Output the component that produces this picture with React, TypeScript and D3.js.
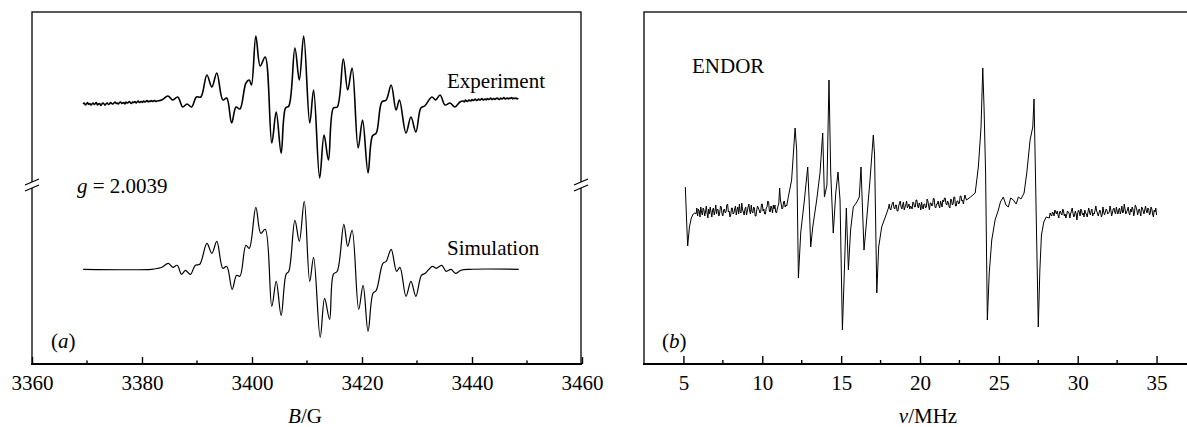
import React, { useEffect, useRef } from 'react';
import * as d3 from 'd3';

// ---------- panel (a): EPR, field B in gauss, signal in arbitrary units ----------
const fieldTicks = [3360, 3380, 3400, 3420, 3440, 3460];
const fieldMinor = [3370, 3390, 3410, 3430, 3450];

// experiment: noisy flat wings (uniform sweep) + hand-read line shape
const SWEEP_A = 0.2;
const expLowStart = 3369.3;
const expLow = [
  0, 1, -1, 0, 1.5, -0.5, 0.5, -1, 0, 1,
  -0.5, 0.5, 1.5, -1, 0, 0.5, -1.5, 0, 1, 0,
  -1, 0.5, 1, -0.5, 0, 1.5, 0.5, 0, 1, 2,
  0.5, 1, 0, 1.5, 2, 0.5, 1, 1.5, 0, 2,
  1, 1.5, 2.5, 1, 0.5, 2, 1.5, 2.5, 1, 2,
  3, 1.5, 2, 2.5, 1.5, 3, 2, 2.5, 3.5, 2,
  3, 2.5, 3.5, 2.5, 3, 3.5, 2.5, 3];
const expHighStart = 3438.4;
const expHigh = [
  3, 2, 4, 3, 2.5, 4, 3.5, 3, 4.5, 3.5,
  4, 5, 3.5, 4, 5, 4, 4.5, 5.5, 4, 4.5,
  5, 4, 5.5, 4.5, 5, 6, 4.5, 5, 5.5, 4.5,
  5.5, 6, 5, 4.5, 6, 5, 5.5, 6.5, 5, 5.5,
  6, 5, 6, 5.5, 6.5, 5, 6, 5.5, 6, 5,
  6];
const expLines: [number, number][] = [
  [3383.6, 4], [3384.7, 8], [3385.6, 4], [3386.5, 7], [3387.4, -3], [3388.2, 0], [3389.0, -3],
  [3389.9, 7], [3390.7, 7], [3391.8, 29], [3392.7, 17], [3393.6, 31], [3394.7, 4], [3395.4, 6],
  [3396.3, -19], [3397.1, -3], [3397.8, -5], [3398.9, 21], [3399.5, 24], [3399.9, 19], [3400.7, 68],
  [3401.5, 38], [3402.4, 47], [3403.6, -39], [3404.4, -8], [3405.3, -49], [3406.1, -4], [3406.7, -2],
  [3407.8, 56], [3408.6, 24], [3409.4, 68], [3410.5, -19], [3411.2, 14], [3412.3, -74], [3413.1, -31],
  [3413.9, -56], [3414.8, -4], [3415.5, -3], [3416.6, 45], [3417.4, 14], [3418.2, 36], [3419.3, -44],
  [3420.1, -16], [3421.1, -69], [3421.9, -32], [3422.6, -29], [3423.6, 2], [3424.4, 4], [3425.3, 19],
  [3426.2, -6], [3426.8, 4], [3428.0, -29], [3428.9, -13], [3429.8, -28], [3430.7, -4], [3431.4, -2],
  [3432.7, 7], [3433.4, 4], [3434.2, 9], [3435.1, -1], [3436.0, 1], [3436.9, -3], [3437.8, 2],
];

const simulation: [number, number][] = [
  [3369.3, 0], [3381.8, 0], [3382.9, 1], [3383.6, 2], [3384.8, 6], [3385.6, 2], [3386.4, 4],
  [3387.2, -5], [3387.9, -1], [3388.8, -5], [3389.7, 4], [3390.5, 5], [3391.8, 26], [3392.7, 16],
  [3393.6, 28], [3394.7, 1], [3395.4, 3], [3396.4, -20], [3397.2, -6], [3397.8, -7], [3398.9, 24],
  [3399.5, 21], [3400.7, 62], [3401.6, 36], [3402.4, 40], [3403.6, -37], [3404.4, -12], [3405.3, -46],
  [3406.2, -5], [3406.7, -2], [3407.8, 49], [3408.6, 28], [3409.5, 68], [3410.5, -12], [3411.2, 12],
  [3412.4, -68], [3413.2, -29], [3414.1, -50], [3414.8, -5], [3415.5, -2], [3416.7, 45], [3417.4, 23],
  [3418.2, 39], [3419.4, -40], [3420.2, -16], [3421.1, -62], [3422.0, -24], [3422.6, -21], [3423.8, 6],
  [3424.4, 8], [3425.3, 20], [3426.3, -2], [3426.9, 2], [3428.0, -27], [3428.9, -12], [3429.8, -27],
  [3430.8, -6], [3431.5, -4], [3432.8, 3], [3433.5, 1], [3434.5, 4], [3435.3, -2], [3436.2, 0],
  [3437.0, -4], [3438.0, -1], [3439.6, 0], [3448.5, 0],
];

// ---------- panel (b): ENDOR, frequency in MHz ----------
const freqTicks = [5, 10, 15, 20, 25, 30, 35];
const freqMinor = [7.5, 12.5, 17.5, 22.5, 27.5, 32.5];

const SWEEP_B = 0.05;
const endorLowStart = 5.8;
const endorLow = [
  -4, 2, -6, 1, -1, -7, 3, -2, -5, 2,
  0, -6, -2, 4, -3, -8, 1, -4, 3, -2,
  -7, 0, 2, -5, -1, 5, -4, 1, 0, -6,
  -3, 4, 3, -4, -6, 0, 1, -3, -2, 5,
  6, -2, -1, -7, -5, 2, 2, -4, -3, 1,
  4, -5, 0, 3, -4, 6, -2, -3, 7, 0,
  -2, -5, 1, 3, -5, -1, 3, 6, -1, -4,
  5, -2, -3, 3, 2, -6, -6, 0, 4, 2,
  0, -3, -2, 6, 6, -1, 1, -4, -4, 2,
  3, 9, 8, -1, -2, 4, 2, -3, 5, 1,
  5, -2, -3, 1, 4, 7, 22, 10, 6, 1,
  2, 8, 9, 3, 5, 4];
const endorMidStart = 18.0;
const endorMid = [
  2, 6, 1, 0, 4, 7, 8, 2, 1, 5,
  5, -1, -1, 4, 7, 9, 3, 1, 5, 8,
  0, 3, 5, 9, 2, 4, 6, 1, 4, 3,
  1, 8, 7, 3, 3, 10, 10, 4, 2, 7,
  5, 0, 8, 3, 1, 6, 6, 2, 3, 11,
  9, 4, 0, 7, 7, 4, 5, 12, 11, 3,
  2, 6, 6, 9, 4, 2, 9, 6, 3, 10,
  8, 12, 12, 6, 5, 9, 7, 3, 2, 11,
  10, 5, 6, 13, 13, 4, 4, 9, 9, 6,
  7, 14, 14, 9, 10, 6, 11, 15, 12, 10];
const endorHighStart = 28.2;
const endorHigh = [
  -8, -3, -5, -6, -2, -3, -6, 0, -2, -4,
  -1, -5, -8, -2, -1, -4, -5, 1, -1, -6,
  -4, -8, -5, -1, -2, -3, -8, -4, -1, 2,
  -3, -7, -5, -1, -4, -10, -3, 0, -2, -6,
  1, -1, -5, -3, -7, 0, -3, -4, -7, -2,
  2, -2, -5, -1, 1, -6, -3, -4, 0, 4,
  -1, -3, -6, -3, 0, -2, -7, -5, 3, -2,
  -5, -2, 1, 0, -4, -3, -2, 4, 0, -6,
  -3, 1, 2, -2, -4, 3, -1, -4, 0, 2,
  -4, -1, 4, -3, -2, 6, 1, -4, -2, 0,
  3, -3, -5, 1, -2, 3, 1, -6, -2, 5,
  3, 0, -5, -1, 1, -2, -6, 3, 2, -1,
  -4, 0, 4, -1, -3, 2, 1, -5, -3, 3,
  1, -4, -7, 0, -2, 2, -5];
const endorLines: [number, number][] = [
  [5.12, 23], [5.2, -10], [5.27, -36], [5.38, -17], [5.5, -8], [5.62, -4], [5.72, -3],
  [11.65, 13], [11.86, 30], [12.08, 82], [12.18, 60], [12.29, -68], [12.44, -22], [12.65, 7],
  [12.88, 43], [12.97, 10], [13.07, -37], [13.2, -17], [13.45, 10], [13.66, 37], [13.83, 77],
  [13.94, 13], [14.1, 25], [14.23, 130], [14.34, 37], [14.5, -23], [14.66, 17], [14.8, 38],
  [14.93, 10], [15.08, -120], [15.2, -63], [15.33, 2], [15.46, -60], [15.6, -20], [15.77, 3],
  [16.0, 8], [16.15, 13], [16.26, 43], [16.35, 3], [16.45, -40], [16.58, -17], [16.83, 30],
  [17.04, 75], [17.12, 55], [17.26, -83], [17.38, -37], [17.57, -17], [17.89, -3],
  [23.2, 13], [23.5, 17], [23.7, 43], [23.87, 83], [23.98, 142], [24.06, 103], [24.16, 37],
  [24.27, -110], [24.39, -63], [24.55, -30], [24.76, -10], [24.97, 0], [25.1, 8], [25.28, 13],
  [25.45, 5], [25.6, 3], [25.75, 12], [25.92, 10], [26.1, 6], [26.24, 13], [26.4, 11], [26.6, 17],
  [26.77, 37], [26.98, 70], [27.15, 83], [27.23, 111], [27.3, 53], [27.5, -117], [27.6, -60],
  [27.7, -25], [27.85, -12], [28.0, -7],
];

const SERIF = '"Liberation Serif", "Times New Roman", Times, serif';

// spectra are recorded on a uniform sweep: pair each read value with its sweep position
const sweep = (start: number, step: number, vals: number[]): [number, number][] =>
  vals.map((v, i) => [+(start + i * step).toFixed(3), v]);

const App = () => {
  const axisA = useRef<SVGGElement>(null);
  const axisB = useRef<SVGGElement>(null);

  const xA = d3.scaleLinear().domain([3360, 3460]).range([32, 582]);
  const yExp = d3.scaleLinear().domain([-80, 80]).range([184, 24]);
  const ySim = d3.scaleLinear().domain([-80, 80]).range([349.3, 189.3]);
  const xB = d3.scaleLinear().domain([2.5, 37.5]).range([644, 1196]);
  const yB = d3.scaleLinear().domain([-150, 150]).range([360, 60]);
  const bottom = 364;

  const experiment = [...sweep(expLowStart, SWEEP_A, expLow), ...expLines, ...sweep(expHighStart, SWEEP_A, expHigh)]
    .sort((a, b) => a[0] - b[0]);
  const endor = [...endorLines, ...sweep(endorLowStart, SWEEP_B, endorLow),
    ...sweep(endorMidStart, SWEEP_B, endorMid), ...sweep(endorHighStart, SWEEP_B, endorHigh)]
    .sort((a, b) => a[0] - b[0]);

  const expPath = d3.line<[number, number]>().x(d => xA(d[0])).y(d => yExp(d[1]))
    .curve(d3.curveCatmullRom.alpha(0.5))(experiment);
  const simPath = d3.line<[number, number]>().x(d => xA(d[0])).y(d => ySim(d[1]))
    .curve(d3.curveCatmullRom.alpha(0.5))(simulation);
  const endorPath = d3.line<[number, number]>().x(d => xB(d[0])).y(d => yB(d[1]))(endor);

  useEffect(() => {
    const ga = d3.select(axisA.current!);
    ga.call(d3.axisBottom(xA).tickValues(fieldTicks).tickSizeInner(-7).tickSizeOuter(0)
      .tickPadding(11).tickFormat(d3.format('d')));
    ga.select('.domain').remove();
    ga.attr('font-size', 21).attr('font-family', null);
    ga.selectAll('line').attr('stroke-width', 1.4);

    const gb = d3.select(axisB.current!);
    gb.call(d3.axisBottom(xB).tickValues(freqTicks).tickSizeInner(-8).tickSizeOuter(0)
      .tickPadding(11).tickFormat(d3.format('d')));
    gb.select('.domain').remove();
    gb.attr('font-size', 21).attr('font-family', null);
    gb.selectAll('line').attr('stroke-width', 1.4);
  }, []);

  // break marks on the left/right edges of panel (a)
  const yb = 186;
  const breakMark = (x: number) => (
    <g key={x}>
      <line x1={x} x2={x} y1={yb - 4} y2={yb + 2} stroke="#fff" strokeWidth={4} />
      <line x1={x - 7} y1={yb - 1} x2={x + 7} y2={yb - 7} stroke="#000" strokeWidth={1.3} />
      <line x1={x - 7} y1={yb + 5} x2={x + 7} y2={yb - 1} stroke="#000" strokeWidth={1.3} />
    </g>
  );

  return (
    <svg width={1187} height={427}
      style={{ position: 'absolute', left: 0, top: 0, background: '#fff', fontFamily: SERIF }}>
      {/* panel (a) frame */}
      <rect x={32} y={12} width={549} height={bottom - 12} fill="none" stroke="#000" strokeWidth={1.3} />
      <line x1={31} x2={582} y1={bottom} y2={bottom} stroke="#000" strokeWidth={2} />
      {breakMark(32)}
      {breakMark(581)}
      {fieldMinor.map(v => (
        <line key={v} x1={xA(v)} x2={xA(v)} y1={bottom} y2={bottom - 3.5} stroke="#000" strokeWidth={1.4} />
      ))}
      <g ref={axisA} transform={`translate(0,${bottom})`} />
      <path d={expPath ?? ''} fill="none" stroke="#000" strokeWidth={1.6} strokeLinejoin="round" />
      <path d={simPath ?? ''} fill="none" stroke="#000" strokeWidth={1.2} />
      <text x={447} y={88} fontSize={21}>Experiment</text>
      <text x={447} y={255} fontSize={21}>Simulation</text>
      <text x={77} y={193} fontSize={21}><tspan fontStyle="italic">g</tspan> = 2.0039</text>
      <text x={51} y={348} fontSize={21}>(<tspan fontStyle="italic">a</tspan>)</text>
      <text x={305} y={423} fontSize={21} textAnchor="middle"><tspan fontStyle="italic">B</tspan>/G</text>

      {/* panel (b) frame */}
      <rect x={644} y={12} width={552} height={bottom - 12} fill="none" stroke="#000" strokeWidth={1.3} />
      <line x1={643} x2={1196} y1={bottom} y2={bottom} stroke="#000" strokeWidth={2} />
      {freqMinor.map(v => (
        <line key={v} x1={xB(v)} x2={xB(v)} y1={bottom} y2={bottom - 4} stroke="#000" strokeWidth={1.4} />
      ))}
      <g ref={axisB} transform={`translate(0,${bottom})`} />
      <path d={endorPath ?? ''} fill="none" stroke="#000" strokeWidth={1} strokeLinejoin="round" />
      <text x={692} y={73} fontSize={21}>ENDOR</text>
      <text x={662} y={348} fontSize={21}>(<tspan fontStyle="italic">b</tspan>)</text>
      <text x={928} y={423} fontSize={21} textAnchor="middle"><tspan fontStyle="italic">ν</tspan>/MHz</text>
    </svg>
  );
};

export default App;
